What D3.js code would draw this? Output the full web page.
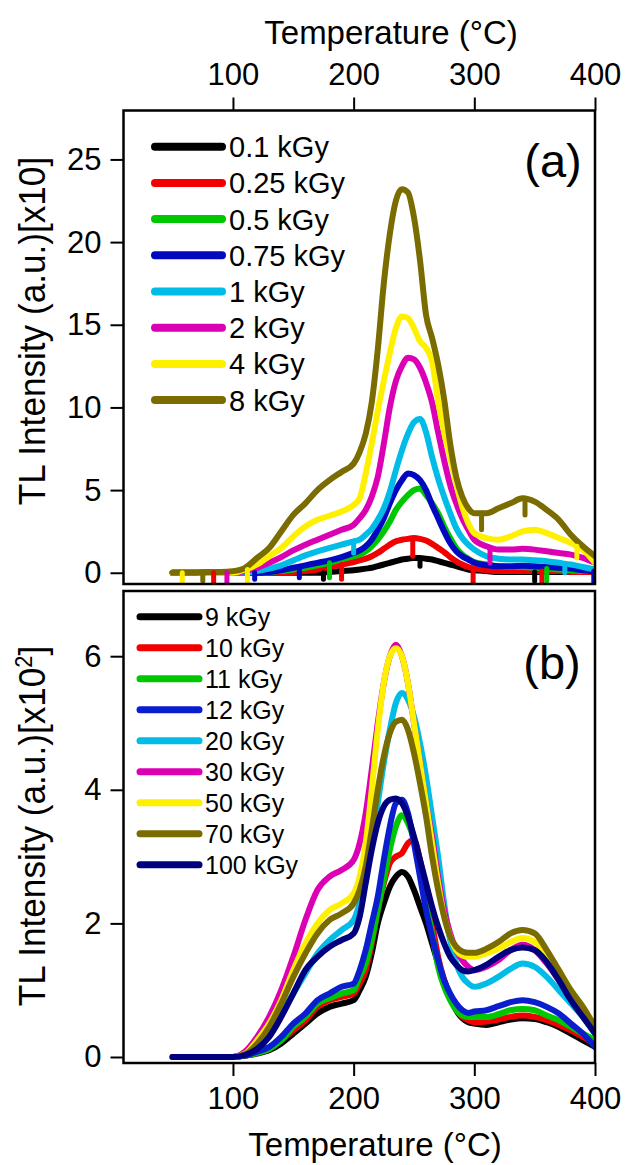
<!DOCTYPE html>
<html>
<head>
<meta charset="utf-8">
<script src="https://cdn.jsdelivr.net/npm/d3@7"></script>
<style>
  body { margin: 0; background: #fff; }
  svg { display: block; font-family: "Liberation Sans", Arial, sans-serif; }
</style>
</head>
<body>
<div id="chart"></div>
<script>
// Temperature grid (°C) shared by every curve
const temps = [50, 60, 70, 80, 90, 100, 110, 120, 130, 140, 150, 160, 170, 180, 190, 200,
  205, 210, 215, 220, 225, 230, 235, 240, 245, 250, 255, 260, 265, 270, 275, 280, 285, 290, 295,
  300, 310, 320, 330, 340, 350, 360, 370, 380, 390, 400];

// Panel (a): TL intensity [x10]
const dosesA = ["0.1 kGy", "0.25 kGy", "0.5 kGy", "0.75 kGy", "1 kGy", "2 kGy", "4 kGy", "8 kGy"];
const colorsA = ["#000000", "#f20000", "#00c800", "#0008c0", "#00bce6", "#dc00b4", "#fff000", "#7a6c00"];
const a01 = [0, 0, 0, 0, 0, 0, 0, 0, 0, 0, 0, 0, 0, 0.05, 0.1, 0.15,
  0.2, 0.25, 0.3, 0.4, 0.5, 0.6, 0.7, 0.8, 0.85, 0.9, 0.9, 0.85, 0.8, 0.7, 0.6, 0.5, 0.4, 0.3, 0.2,
  0.15, 0.1, 0.05, 0.05, 0.05, 0.05, 0.05, 0.05, 0.05, 0.05, 0.05];
const a025 = [0, 0, 0, 0, 0, 0, 0, 0, 0, 0, 0.05, 0.1, 0.2, 0.35, 0.5, 0.65,
  0.75, 0.85, 1.0, 1.2, 1.45, 1.7, 1.9, 2.0, 2.05, 2.1, 2.05, 1.95, 1.75, 1.5, 1.25, 0.95, 0.7, 0.5, 0.35,
  0.25, 0.15, 0.1, 0.1, 0.1, 0.1, 0.1, 0.1, 0.05, 0.05, 0.05];
const a05 = [0, 0, 0, 0, 0, 0, 0, 0, 0.05, 0.1, 0.2, 0.3, 0.45, 0.6, 0.8, 1.0,
  1.1, 1.3, 1.6, 2.0, 2.5, 3.1, 3.8, 4.3, 4.7, 5.0, 5.1, 4.7, 4.2, 3.6, 2.8, 2.1, 1.5, 1.1, 0.85,
  0.65, 0.5, 0.4, 0.35, 0.35, 0.3, 0.25, 0.2, 0.15, 0.1, 0.1];
const a075 = [0, 0, 0, 0, 0, 0, 0, 0, 0.05, 0.15, 0.3, 0.45, 0.6, 0.75, 0.95, 1.2,
  1.35, 1.6, 2.0, 2.6, 3.3, 4.2, 5.0, 5.6, 6.0, 5.9, 5.6, 5.0, 4.1, 3.3, 2.5, 1.8, 1.3, 1.0, 0.8,
  0.6, 0.45, 0.4, 0.4, 0.42, 0.4, 0.35, 0.3, 0.25, 0.15, 0.1];
const a1 = [0, 0, 0, 0, 0, 0, 0, 0.1, 0.25, 0.45, 0.75, 1.05, 1.3, 1.5, 1.7, 1.9,
  2.0, 2.3, 2.65, 3.2, 3.9, 4.9, 6.2, 7.4, 8.4, 9.1, 9.3, 8.5, 7.0, 5.7, 4.6, 3.6, 2.7, 2.1, 1.7,
  1.4, 1.0, 0.85, 0.8, 0.8, 0.75, 0.7, 0.6, 0.5, 0.35, 0.2];
const a2 = [0, 0, 0, 0, 0, 0, 0.1, 0.3, 0.6, 0.95, 1.35, 1.7, 2.0, 2.3, 2.6, 2.9,
  3.3, 3.8, 4.6, 5.8, 7.8, 10.0, 11.6, 12.5, 13.0, 12.9, 12.4, 11.5, 10.3, 8.5, 6.8, 5.3, 4.2, 3.3, 2.6,
  2.0, 1.6, 1.4, 1.4, 1.45, 1.4, 1.3, 1.2, 1.1, 0.9, 0.6];
const a4 = [0, 0, 0, 0, 0, 0, 0.2, 0.5, 1.0, 1.5, 2.2, 2.8, 3.2, 3.45, 3.7, 4.1,
  4.5, 6.0, 7.8, 9.8, 11.6, 13.3, 14.8, 15.5, 15.4, 14.8, 14.0, 13.6, 12.8, 10.4, 8.5, 7.0, 5.4, 4.0, 3.0,
  2.4, 2.1, 2.0, 2.2, 2.5, 2.6, 2.4, 2.1, 1.8, 1.4, 0.6];
const a8 = [0, 0, 0, 0.05, 0.05, 0.1, 0.3, 0.9, 1.5, 2.5, 3.5, 4.2, 5.0, 5.6, 6.1, 6.6,
  7.3, 8.4, 10.3, 13.5, 17.5, 20.5, 22.5, 23.2, 23.0, 21.5, 18.9, 15.6, 14.2, 12.6, 10.5, 7.8, 5.8, 4.6, 3.9,
  3.6, 3.6, 3.9, 4.2, 4.5, 4.3, 3.8, 3.2, 2.3, 1.6, 1.0];
const seriesA = [a01, a025, a05, a075, a1, a2, a4, a8];

// Narrow noise dips in panel (a): [series index, T, from, to]
const dipsA = [
  [6, 58, 0, -0.8], [7, 75, 0, -0.5], [1, 84, 0, -0.6], [5, 95, 0, -0.7], [6, 112, 0.2, -0.9],
  [3, 118, 0, -0.4], [0, 175, 0, -0.4], [1, 190, 0.5, -0.4], [2, 180, 0.6, -0.3], [1, 249, 2.1, 1.0],
  [0, 255, 0.9, 0.4], [1, 299, 0.25, -0.6], [5, 313, 1.5, 0.6], [7, 306, 3.6, 2.6], [7, 342, 4.5, 3.5],
  [0, 350, 0.05, -0.5], [1, 356, 0.1, -0.7], [2, 360, 0.25, -0.5], [4, 375, 0.55, 0.0], [6, 385, 1.6, 0.9],
  [3, 399, 0.1, -1.0], [3, 155, 0.4, -0.3], [4, 200, 1.9, 1.2]
];

// Panel (b): TL intensity [x10^2]
const dosesB = ["9 kGy", "10 kGy", "11 kGy", "12 kGy", "20 kGy", "30 kGy", "50 kGy", "70 kGy", "100 kGy"];
const colorsB = ["#000000", "#f20000", "#00c800", "#0a1ed0", "#00bce6", "#dc00b4", "#fff000", "#7a6c00", "#00007e"];
const b9 = [0, 0, 0, 0, 0, 0, 0.02, 0.05, 0.1, 0.2, 0.35, 0.5, 0.65, 0.75, 0.8, 0.85,
  1.0, 1.2, 1.55, 2.0, 2.3, 2.55, 2.7, 2.77, 2.7, 2.5, 2.25, 2.0, 1.7, 1.4, 1.15, 0.9, 0.7, 0.58, 0.52,
  0.5, 0.48, 0.52, 0.56, 0.58, 0.57, 0.52, 0.45, 0.35, 0.25, 0.15];
const b10 = [0, 0, 0, 0, 0, 0, 0.02, 0.06, 0.12, 0.25, 0.4, 0.55, 0.75, 0.85, 0.9, 0.95,
  1.1, 1.3, 1.7, 2.2, 2.6, 2.9, 3.0, 3.05, 3.2, 3.25, 2.95, 2.5, 2.0, 1.5, 1.15, 0.9, 0.72, 0.6, 0.55,
  0.52, 0.53, 0.56, 0.6, 0.62, 0.6, 0.55, 0.48, 0.4, 0.3, 0.2];
const b11 = [0, 0, 0, 0, 0, 0, 0.02, 0.06, 0.12, 0.25, 0.45, 0.6, 0.8, 0.88, 0.95, 1.0,
  1.2, 1.4, 1.75, 2.2, 2.65, 3.1, 3.45, 3.62, 3.5, 3.25, 2.85, 2.3, 1.85, 1.35, 1.05, 0.85, 0.7, 0.62, 0.6,
  0.6, 0.6, 0.64, 0.7, 0.72, 0.7, 0.62, 0.55, 0.45, 0.35, 0.25];
const b12 = [0, 0, 0, 0, 0, 0, 0.02, 0.08, 0.15, 0.3, 0.5, 0.65, 0.85, 0.95, 1.05, 1.1,
  1.3, 1.6, 2.0, 2.4, 2.95, 3.45, 3.8, 3.85, 3.65, 3.2, 2.7, 2.2, 1.8, 1.45, 1.15, 0.95, 0.8, 0.7, 0.66,
  0.68, 0.7, 0.76, 0.82, 0.85, 0.82, 0.75, 0.65, 0.5, 0.35, 0.15];
const b20 = [0, 0, 0, 0, 0, 0, 0.05, 0.2, 0.4, 0.65, 0.95, 1.25, 1.55, 1.75, 1.9, 2.05,
  2.3, 2.65, 3.2, 3.8, 4.4, 4.9, 5.3, 5.45, 5.35, 5.1, 4.7, 4.2, 3.6, 3.0, 2.3, 1.75, 1.4, 1.2, 1.1,
  1.05, 1.1, 1.2, 1.32, 1.4, 1.35, 1.2, 1.0, 0.8, 0.6, 0.35];
const b30 = [0, 0, 0, 0, 0, 0, 0.08, 0.3, 0.6, 1.0, 1.5, 2.05, 2.5, 2.7, 2.8, 2.95,
  3.2, 3.65, 4.3, 5.0, 5.6, 6.0, 6.17, 6.0, 5.6, 5.0, 4.4, 3.8, 3.3, 2.7, 2.2, 1.85, 1.6, 1.45, 1.35,
  1.3, 1.35, 1.45, 1.6, 1.68, 1.6, 1.4, 1.15, 0.9, 0.65, 0.4];
const b50 = [0, 0, 0, 0, 0, 0, 0.05, 0.25, 0.5, 0.85, 1.3, 1.7, 2.0, 2.2, 2.3, 2.45,
  2.7, 3.2, 4.0, 4.9, 5.6, 6.0, 6.12, 6.0, 5.6, 5.0, 4.4, 3.8, 3.2, 2.6, 2.1, 1.8, 1.6, 1.52, 1.5,
  1.5, 1.55, 1.62, 1.72, 1.78, 1.72, 1.55, 1.3, 1.0, 0.75, 0.45];
const b70 = [0, 0, 0, 0, 0, 0, 0.04, 0.2, 0.45, 0.8, 1.2, 1.55, 1.85, 2.05, 2.15, 2.3,
  2.5, 2.85, 3.4, 4.0, 4.5, 4.85, 5.02, 5.05, 4.9, 4.55, 4.1, 3.6, 3.0, 2.5, 2.1, 1.8, 1.65, 1.58, 1.56,
  1.56, 1.62, 1.72, 1.85, 1.9, 1.85, 1.6, 1.3, 1.0, 0.75, 0.45];
const b100 = [0, 0, 0, 0, 0, 0, 0.03, 0.12, 0.3, 0.6, 0.95, 1.3, 1.5, 1.65, 1.75, 1.85,
  2.1, 2.6, 3.1, 3.5, 3.75, 3.85, 3.87, 3.8, 3.6, 3.3, 2.95, 2.6, 2.25, 1.95, 1.7, 1.5, 1.38, 1.3, 1.28,
  1.3, 1.38, 1.5, 1.6, 1.64, 1.6, 1.42, 1.15, 0.85, 0.6, 0.35];
const seriesB = [b9, b10, b11, b12, b20, b30, b50, b70, b100];

const ticksX = [100, 200, 300, 400];
const ticksA = [0, 5, 10, 15, 20, 25];
const ticksB = [0, 2, 4, 6];

const width = 625, height = 1165;
const font = "'Liberation Sans', Arial, sans-serif";

const svg = d3.select("#chart").append("svg")
  .attr("width", width)
  .attr("height", height)
  .attr("viewBox", `0 0 ${width} ${height}`);

const x = d3.scaleLinear().domain([9.3, 400]).range([123.5, 595]);
const yA = d3.scaleLinear().domain([-0.68, 27.96]).range([584, 110.5]);
const yB = d3.scaleLinear().domain([-0.09, 6.976]).range([1063, 591]);

function drawPanel(id, y, series, colors, lw) {
  const [y0, y1] = y.range();
  svg.append("clipPath").attr("id", id)
    .append("rect")
    .attr("x", x.range()[0]).attr("y", y1)
    .attr("width", x.range()[1] - x.range()[0]).attr("height", y0 - y1);

  const line = d3.line()
    .x((d, i) => x(temps[i]))
    .y(d => y(d))
    .curve(d3.curveMonotoneX);

  const g = svg.append("g").attr("clip-path", `url(#${id})`);
  g.selectAll("path.curve")
    .data(series)
    .enter()
    .append("path")
    .attr("class", "curve")
    .attr("d", d => line(d))
    .attr("fill", "none")
    .attr("stroke", (d, i) => colors[i])
    .attr("stroke-width", lw)
    .attr("stroke-linejoin", "round")
    .attr("stroke-linecap", "round");
  return g;
}

const gA = drawPanel("clipA", yA, seriesA, colorsA, 6);
// dips drawn on top, coloured like their own curve
gA.selectAll("line.dip")
  .data(dipsA)
  .enter()
  .append("line")
  .attr("class", "dip")
  .attr("x1", d => x(d[1])).attr("x2", d => x(d[1]))
  .attr("y1", d => yA(d[2])).attr("y2", d => yA(d[3]))
  .attr("stroke", d => colorsA[d[0]])
  .attr("stroke-width", 5)
  .attr("stroke-linecap", "round");

drawPanel("clipB", yB, seriesB, colorsB, 6);

// frames
[yA, yB].forEach(y => {
  const [y0, y1] = y.range();
  svg.append("rect")
    .attr("x", x.range()[0]).attr("y", y1)
    .attr("width", x.range()[1] - x.range()[0]).attr("height", y0 - y1)
    .attr("fill", "none").attr("stroke", "#000").attr("stroke-width", 2.5);
});

function styleAxis(g) {
  g.select(".domain").remove();
  g.selectAll(".tick line").attr("stroke", "#000").attr("stroke-width", 2);
  g.selectAll(".tick text").attr("fill", "#000").style("font-family", font).style("font-size", "31px");
}

svg.append("g")
  .attr("transform", `translate(0,${yA.range()[1]})`)
  .call(d3.axisTop(x).tickValues(ticksX).tickSize(13).tickPadding(13))
  .call(styleAxis);

svg.append("g")
  .attr("transform", `translate(0,${yB.range()[0]})`)
  .call(d3.axisBottom(x).tickValues(ticksX).tickSize(13).tickPadding(11))
  .call(styleAxis);

svg.append("g")
  .attr("transform", `translate(${x.range()[0]},0)`)
  .call(d3.axisLeft(yA).tickValues(ticksA).tickFormat(d3.format("d")).tickSize(13).tickPadding(9))
  .call(styleAxis);

svg.append("g")
  .attr("transform", `translate(${x.range()[0]},0)`)
  .call(d3.axisLeft(yB).tickValues(ticksB).tickFormat(d3.format("d")).tickSize(13).tickPadding(9))
  .call(styleAxis);

// axis titles
svg.append("text")
  .attr("x", 391).attr("y", 44)
  .attr("text-anchor", "middle")
  .style("font-family", font).style("font-size", "33px")
  .text("Temperature (°C)");

svg.append("text")
  .attr("x", 375).attr("y", 1156)
  .attr("text-anchor", "middle")
  .style("font-family", font).style("font-size", "33px")
  .text("Temperature (°C)");

// y titles: tall, narrow lettering as in the original
svg.append("text")
  .attr("transform", "translate(45,331) rotate(-90) scale(0.95,1)")
  .attr("text-anchor", "middle")
  .style("font-family", font).style("font-size", "37px")
  .text("TL Intensity (a.u.)[x10]");

const tb = svg.append("text")
  .attr("transform", "translate(45,826) rotate(-90) scale(0.95,1)")
  .attr("text-anchor", "middle")
  .style("font-family", font).style("font-size", "37px");
tb.append("tspan").text("TL Intensity (a.u.)[x10");
tb.append("tspan").attr("dy", -13).style("font-size", "23px").text("2");
tb.append("tspan").attr("dy", 13).text("]");

// panel labels
svg.append("text")
  .attr("x", 553).attr("y", 177)
  .attr("text-anchor", "middle")
  .style("font-family", font).style("font-size", "47px")
  .text("(a)");
svg.append("text")
  .attr("x", 552).attr("y", 679)
  .attr("text-anchor", "middle")
  .style("font-family", font).style("font-size", "47px")
  .text("(b)");

// legends
function legend(labels, colors, x0, x1, tx, ytop, step, fs, lw) {
  const g = svg.append("g");
  const rows = g.selectAll("g.row")
    .data(labels)
    .enter()
    .append("g")
    .attr("class", "row")
    .attr("transform", (d, i) => `translate(0,${ytop + i * step})`);
  rows.append("line")
    .attr("x1", x0).attr("x2", x1)
    .attr("stroke", (d, i) => colors[i])
    .attr("stroke-width", lw)
    .attr("stroke-linecap", "round");
  rows.append("text")
    .attr("x", tx).attr("dy", "0.36em")
    .style("font-family", font).style("font-size", fs + "px")
    .text(d => d);
}

legend(dosesA, colorsA, 155, 222, 229, 146.7, 36.2, 29, 8);
legend(dosesB, colorsB, 140, 199, 205, 616.7, 31.0, 25, 7);
</script>
</body>
</html>
